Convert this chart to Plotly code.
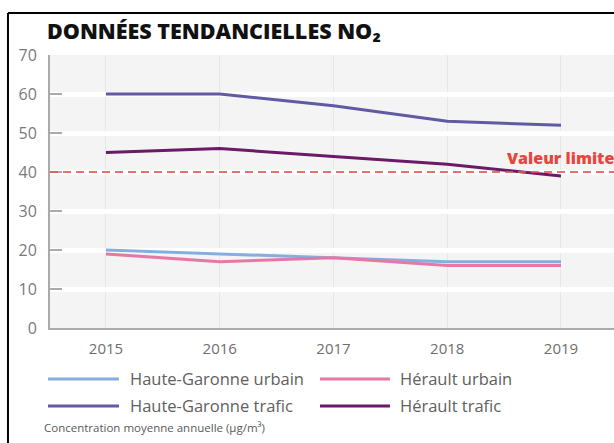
import plotly.graph_objects as go

# Annual mean NO2 concentration by site (µg/m³)
years = [2015, 2016, 2017, 2018, 2019]
hg_urbain = [20, 19, 18, 17, 17]
herault_urbain = [19, 17, 18, 16, 16]
hg_trafic = [60, 60, 57, 53, 52]
herault_trafic = [45, 46, 44, 42, 39]
valeur_limite = 40

series_names = ["Haute-Garonne urbain", "Hérault urbain",
                "Haute-Garonne trafic", "Hérault trafic"]
series_values = [hg_urbain, herault_urbain, hg_trafic, herault_trafic]
series_colors = ["#86ade0", "#e678a6", "#5f5aa2", "#6a1a66"]

FONT = "Open Sans"
GREY = "#7a7a7a"

fig = go.Figure()

for name, vals, col in zip(series_names, series_values, series_colors):
    fig.add_trace(go.Scatter(x=years, y=vals, name=name, mode="lines",
                             line=dict(color=col, width=3), showlegend=False))

# Limit value line across the whole plot width
fig.add_shape(type="line", xref="paper", yref="y", x0=0, x1=1,
              y0=valeur_limite, y1=valeur_limite,
              line=dict(color="#e05a55", width=2, dash="8px,5px"),
              opacity=0.85, layer="above")

fig.add_annotation(x=0.807, xref="paper", y=valeur_limite, yref="y",
                   text="<span style='font-weight:800'>Valeur limite</span>",
                   showarrow=False,
                   xanchor="left", yanchor="middle", yshift=14,
                   font=dict(family=FONT, size=16, color="#e8453c"))

# Two-column legend below the axis
leg_line = [(-0.0035, 0.1223), (0.4787, 0.6028)]
leg_text_x = [0.1383, 0.617]
leg_y = [-0.1868, -0.2857]
for i, (name, col) in enumerate(zip(series_names, series_colors)):
    c = i % 2
    cy = leg_y[i // 2]
    fig.add_shape(type="line", xref="paper", yref="paper",
                  x0=leg_line[c][0], x1=leg_line[c][1], y0=cy, y1=cy,
                  line=dict(color=col, width=3))
    fig.add_annotation(xref="paper", yref="paper", x=leg_text_x[c], y=cy,
                       text=name, showarrow=False, xanchor="left",
                       yanchor="middle",
                       font=dict(family=FONT, size=16.5, color="#606060"))

fig.add_annotation(xref="paper", yref="paper", x=-0.0142, y=-0.3663,
                   text="Concentration moyenne annuelle (µg/m³)",
                   showarrow=False, xanchor="left", yanchor="middle",
                   font=dict(family=FONT, size=11.5, color="#5a5a5a"))

# Title
fig.add_annotation(xref="paper", yref="paper", x=-0.0089, y=1.088,
                   text="<span style='font-weight:800'>DONNÉES TENDANCIELLES NO₂</span>",
                   showarrow=False, xanchor="left", yanchor="middle",
                   font=dict(family=FONT, size=21.5, color="#111111"))

# Frame around the panel
fig.add_shape(type="line", xref="paper", yref="paper",
              x0=-0.0745, x1=-0.0745, y0=1.1538, y1=-0.45,
              line=dict(color="#000000", width=2))
fig.add_shape(type="line", xref="paper", yref="paper",
              x0=-0.0745, x1=1.01, y0=1.1538, y1=1.1538,
              line=dict(color="#000000", width=2))

fig.update_layout(
    width=614, height=443,
    margin=dict(l=50, r=0, t=55, b=115),
    paper_bgcolor="white", plot_bgcolor="#f4f4f4",
    font=dict(family=FONT, color=GREY),
)
fig.update_xaxes(range=[2014.508, 2019.466], tickvals=years,
                 ticktext=[str(y) for y in years],
                 showgrid=True, gridcolor="#e6e6e6", gridwidth=1,
                 showline=True, linecolor="#aaaaaa", linewidth=2,
                 ticks="", ticklabelstandoff=6,
                 tickfont=dict(family=FONT, size=15, color="#6e6e6e"),
                 zeroline=False, fixedrange=True)
fig.update_yaxes(range=[0, 70], tickvals=[0, 10, 20, 30, 40, 50, 60, 70],
                 showgrid=True, gridcolor="#ffffff", gridwidth=5,
                 showline=True, linecolor="#aaaaaa", linewidth=2,
                 ticks="inside", ticklen=12, tickcolor="#aaaaaa", tickwidth=2,
                 ticklabelstandoff=8,
                 tickfont=dict(family=FONT, size=16, color="#7a7a7a"),
                 zeroline=False, fixedrange=True)

fig.write_html("out.html")
